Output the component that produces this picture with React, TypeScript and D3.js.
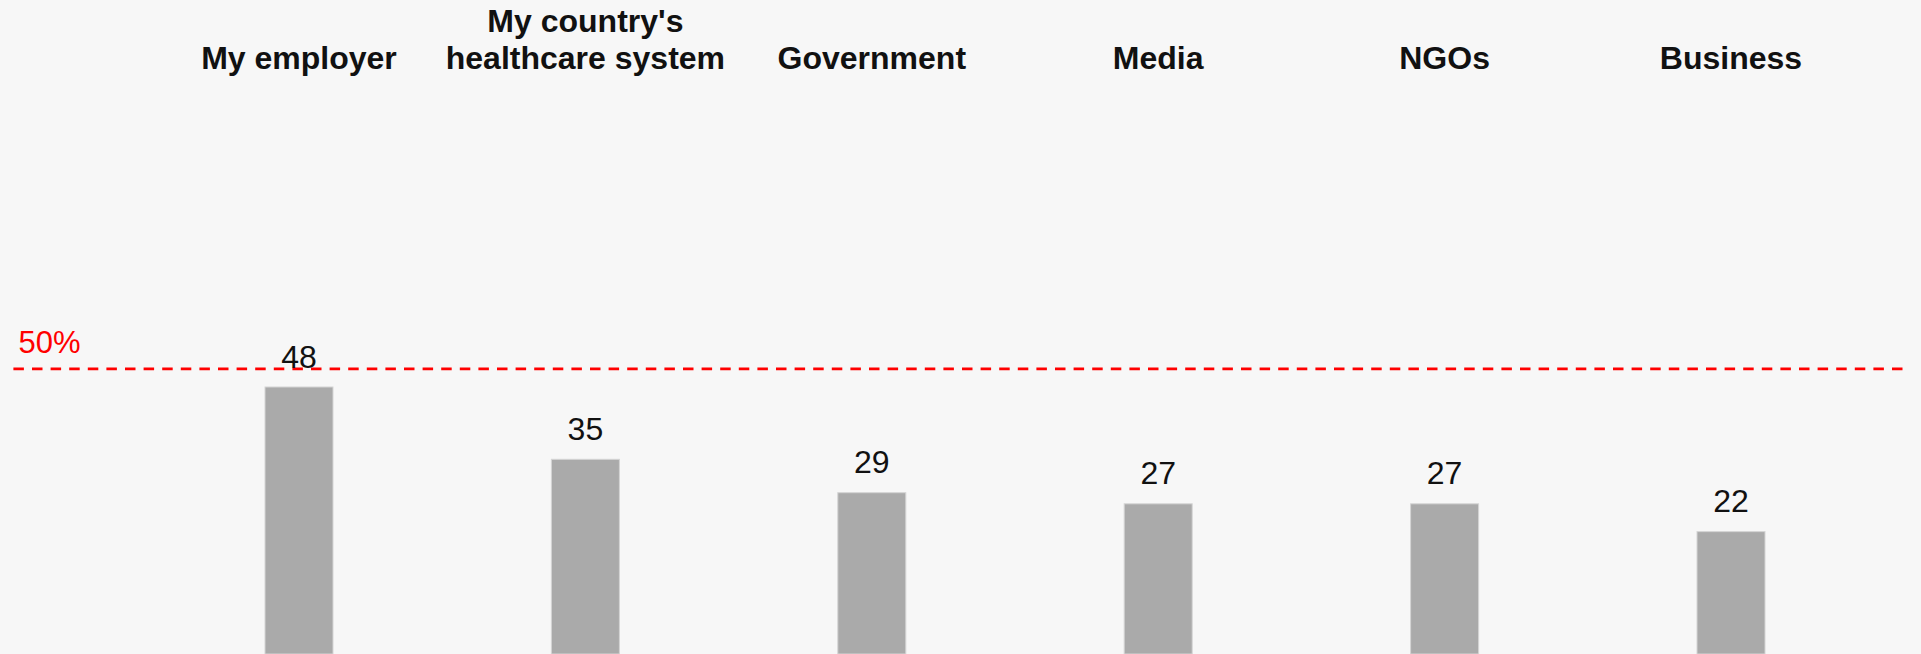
import React from "react";
import * as d3 from "d3";

const categories: string[][] = [
  ["My employer"],
  ["My country's", "healthcare system"],
  ["Government"],
  ["Media"],
  ["NGOs"],
  ["Business"],
];
const values: number[] = [48, 35, 29, 27, 27, 22];
const threshold = 50;
const thresholdLabel = "50%";

const W = 1921;
const H = 654;
const FONT = "'Liberation Sans', Arial, Helvetica, sans-serif";

export default function App() {
  const keys = categories.map((c) => c.join(" "));
  const pi = 0.7626;
  const x = d3
    .scaleBand<string>()
    .domain(keys)
    .range([155.8, 1874.2])
    .paddingInner(pi)
    .paddingOuter(pi / 2);
  const y = d3.scaleLinear().domain([0, 48]).range([654, 387]);
  const lineOffset = -7;
  const ly = y(threshold) + lineOffset;

  return (
    <div style={{ position: "fixed", left: 0, top: 0 }}>
      <svg width={W} height={H} style={{ display: "block" }}>
        <rect x={0} y={0} width={W} height={H} fill="#f7f7f7" />
        {categories.map((lines, i) => {
          const cx = (x(keys[i]) as number) + x.bandwidth() / 2;
          return (
            <text
              key={"c" + i}
              x={cx}
              y={69 - (lines.length - 1) * 36.7}
              textAnchor="middle"
              fontFamily={FONT}
              fontWeight="bold"
              fontSize={32}
              fill="#111"
            >
              {lines.map((l, j) => (
                <tspan key={j} x={cx} dy={j === 0 ? 0 : 36.7}>
                  {l}
                </tspan>
              ))}
            </text>
          );
        })}
        {values.map((v, i) => (
          <rect
            key={"b" + i}
            x={x(keys[i]) as number}
            y={y(v)}
            width={x.bandwidth()}
            height={y(0) - y(v)}
            fill="#aaaaaa"
            stroke="#d4d4d4"
            strokeWidth={1}
          />
        ))}
        <line
          x1={13.4}
          x2={1904}
          y1={ly}
          y2={ly}
          stroke="#ff0000"
          strokeWidth={2.6}
          strokeDasharray="10.5 8.1"
        />
        <text x={18.5} y={353} fontFamily={FONT} fontSize={31} fill="#ff0000">
          {thresholdLabel}
        </text>
        {values.map((v, i) => (
          <text
            key={"v" + i}
            x={(x(keys[i]) as number) + x.bandwidth() / 2}
            y={y(v) - 19.5}
            textAnchor="middle"
            fontFamily={FONT}
            fontSize={32}
            fill="#111"
          >
            {v}
          </text>
        ))}
      </svg>
    </div>
  );
}
